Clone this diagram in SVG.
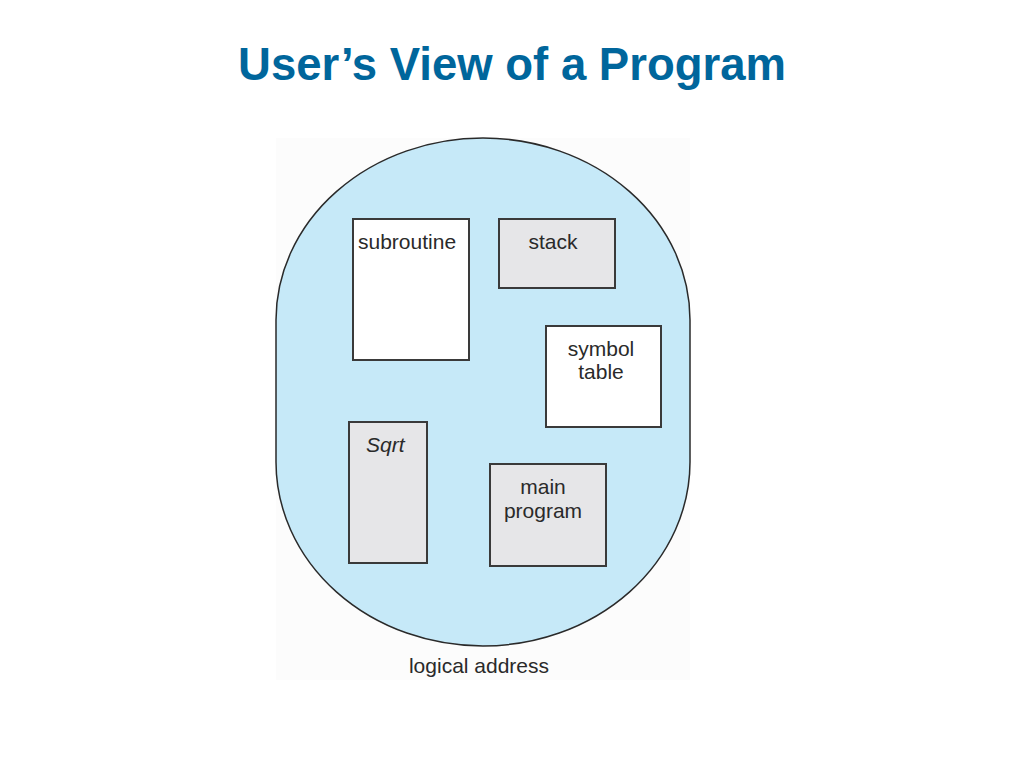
<svg xmlns="http://www.w3.org/2000/svg" width="1024" height="768" viewBox="0 0 1024 768">
<style>
.t{font-family:"Liberation Sans",Arial,sans-serif;font-size:21px;fill:#2a2a2a}
.box{stroke:#3a3a3a;stroke-width:2}
.w{fill:#ffffff}
.g{fill:#e6e6e8}
</style>
<rect width="1024" height="768" fill="#ffffff"/>
<text x="512" y="80" text-anchor="middle" style="font-family:'Liberation Sans',Arial,sans-serif;font-weight:bold;font-size:45.5px;fill:#00669c">User’s View of a Program</text>
<rect x="276" y="138" width="414" height="542" fill="#fcfcfc"/>
<path id="space" d="M276,320 A207,182 0 0 1 690,320 L690,462 A207,184 0 0 1 276,462 Z" fill="#c6e9f8" stroke="#2a2a2a" stroke-width="1.5"/>
<g id="subroutine"><rect class="box w" x="353" y="219" width="116" height="141"/><text class="t" x="358" y="249">subroutine</text></g>
<g id="stack"><rect class="box g" x="499" y="219" width="116" height="69"/><text class="t" x="553" y="249" text-anchor="middle">stack</text></g>
<g id="symbol"><rect class="box w" x="546" y="326" width="115" height="101"/><text class="t" x="601" y="356" text-anchor="middle">symbol</text><text class="t" x="601" y="379" text-anchor="middle">table</text></g>
<g id="sqrt"><rect class="box g" x="349" y="422" width="78" height="141"/><text class="t" x="366" y="452" font-style="italic">Sqrt</text></g>
<g id="main"><rect class="box g" x="490" y="464" width="116" height="102"/><text class="t" x="543" y="494" text-anchor="middle">main</text><text class="t" x="543" y="518" text-anchor="middle">program</text></g>
<text class="t" x="479" y="673" text-anchor="middle">logical address</text>
<g id="connectors"/>
</svg>
